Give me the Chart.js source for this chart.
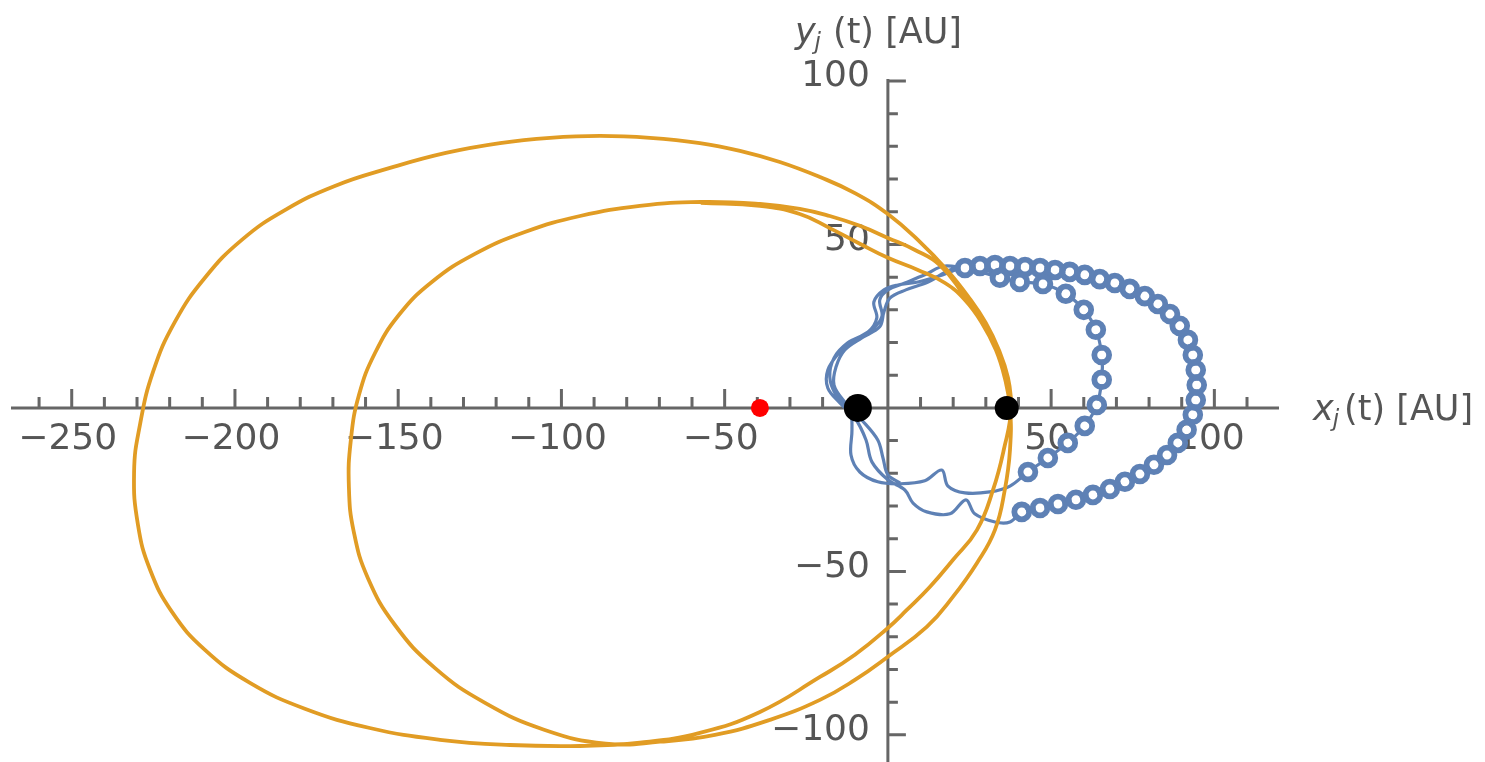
<!DOCTYPE html>
<html>
<head>
<meta charset="utf-8">
<script src="https://cdn.jsdelivr.net/npm/chart.js@4.4.1/dist/chart.umd.min.js"></script>
<style>
  html, body { margin: 0; padding: 0; background: #ffffff; }
  #wrap { width: 1485px; height: 762px; position: relative; }
</style>
</head>
<body>
<div id="wrap"><canvas id="orbits"></canvas></div>
<script>
// Star track (orange): outer loop, inner loop, then the start of a third pass
const starOuterX = [38.0, 36.8, 34.0, 30.0, 24.5, 18.1, 9.8, 0, -10.1, -20.8, -33.1, -45.3, -57.6, -72.9, -88.2,
  -103.5, -118.8, -135.4, -152.5, -169.4, -184.7, -197.9, -209.2, -218.4, -225.1, -229.1, -230.9, -229.7,
  -226.0, -219.3, -209.2, -195.4, -178.6, -158.7, -137.2, -115.8, -94.3, -76.0, -57.6, -39.2, -20.8, -10.1,
  0, 5.8, 12.9, 19.9, 27.3, 32.2, 35.5];
const starOuterY = [0, 9.2, 17.7, 26.0, 34.2, 42.2, 50.8, 59.3, 65.7, 70.6, 75.2, 78.6, 81.0, 82.6, 83.2,
  82.6, 81.0, 78.0, 73.4, 67.9, 60.5, 51.4, 39.8, 26.3, 11.0, -5.2, -19.6, -35.8,
  -49.5, -62.4, -74.0, -84.1, -92.0, -97.9, -101.5, -103.1, -103.4, -102.4, -99.4, -93.0, -82.3, -75.5,
  -67.3, -61.8, -54.7, -46.5, -37.3, -25.1, -12.8];
const starInnerX = [37.7, 36.1, 33.4, 29.1, 23.0, 15.9, 8.3, 0, -8.6, -17.8, -27.0, -39.2, -57.3, -76.0, -94.3,
  -111.2, -126.5, -139.7, -149.8, -157.1, -162.0, -164.5, -165.1, -163.6, -159.3, -151.0, -138.8, -123.4,
  -105.1, -86.4, -69.8, -53.0, -36.1, -20.8, -10.1, 0, 11.9, 19.9, 27.3, 32.8, 35.8, 37.4];
const starInnerY = [0, 9.2, 17.7, 26.3, 34.9, 43.7, 48.3, 52.0, 55.7, 58.7, 60.9, 62.4, 63.0, 61.8, 58.7,
  53.8, 47.1, 38.5, 28.4, 16.8, 4.0, -9.8, -24.2, -37.9, -52.0, -66.4, -79.5, -90.2,
  -98.5, -102.7, -102.1, -100.0, -95.4, -89.3, -83.2, -76.1, -67.0, -57.8, -47.4, -37.3, -25.1, -12.8];
const starTailX = [37.4, 35.8, 33.1, 28.8, 23.6, 17.5, 9.2, 0, -8.6, -17.8, -27.0, -39.2, -57.3];
const starTailY = [0, 9.2, 17.7, 26.0, 33.0, 38.2, 42.2, 45.9, 50.2, 55.0, 59.3, 61.8, 62.7];

// Planet track (blue): middle ring, outer ring, and a third strand on the left
const planetX = [
  22.1, 15.9, 9.2, 3.1, -1.2, -4.3, -3.4, -6.1, -12.3, -16.5, -17.8, -15.9, -11.6, -11.0, -11.3,
  -8.6, -3.1, 3.7, 11.3, 16.5, 18.4, 23.6, 31.2, 37.4, 42.9, 49.0, 55.1, 60.3, 64.0, 65.5, 65.5,
  63.7, 60.0, 54.5, 47.5, 40.4, 34.3, 28.2,
  17.5, 11.3, 5.2, 0, -2.5, -1.8, -4.3, -10.1, -14.7, -18.4, -18.4, -14.7, -10.1, -6.7, -4.9, 0,
  5.2, 7.7, 11.9, 19.0, 23.9, 26.6, 32.8, 37.4, 41.0, 46.6, 52.1, 57.6, 62.8, 68.0, 72.6, 77.2,
  81.5, 85.5, 88.8, 91.5, 93.4, 94.3, 94.6, 94.3, 93.4, 91.9, 89.4, 86.4, 82.7, 78.7, 74.1, 69.5,
  64.9, 60.3, 55.7, 51.2, 46.6, 42.0, 37.4, 32.8, 28.2, 23.6, 19.0,
  12.3, 5.5, 0.6, -1.2, -2.5, -8.0, -13.2, -15.9, -16.5, -13.2, -8.0, -3.1, -1.5, 0, 3.7
];
const planetY = [
  42.8, 40.4, 38.5, 37.6, 36.1, 32.4, 27.5, 23.2, 19.9, 15.3, 9.5, 4.0, -0.6, -6.7, -14.4,
  -19.6, -22.6, -23.2, -22.3, -19.0, -23.9, -26.0, -25.7, -23.9, -19.6, -15.3, -10.7, -5.5, 0.9, 8.6, 16.2,
  23.9, 30.0, 34.9, 37.9, 38.5, 39.8, 41.6,
  43.4, 40.7, 38.2, 36.1, 33.0, 28.1, 24.5, 20.8, 17.1, 11.6, 6.1, 1.5, -3.1, -9.8, -16.5, -22.0,
  -25.1, -29.1, -31.8, -32.4, -28.1, -32.4, -34.9, -34.9, -31.8, -30.6, -29.4, -28.1, -26.6, -24.8, -22.6, -20.2,
  -17.4, -14.4, -10.7, -6.7, -2.1, 2.4, 7.0, 11.6, 16.2, 20.8, 25.1, 28.7, 31.8, 34.2, 36.4, 38.2,
  39.4, 40.7, 41.6, 42.2, 42.8, 43.1, 43.4, 43.7, 43.4, 42.8, 42.2,
  38.5, 36.1, 33.6, 29.4, 24.8, 21.4, 17.7, 12.5, 7.0, 1.8, -3.7, -9.8, -15.3, -20.5, -22.9
];

// Centres of the small moon loops on the outer and middle rings
const outerLoopX = [41.0, 46.6, 52.1, 57.6, 62.8, 68.0, 72.6, 77.2, 81.5, 85.5, 88.8, 91.5, 93.4, 94.3, 94.6, 94.3, 93.4,
  91.9, 89.4, 86.4, 82.7, 78.7, 74.1, 69.5, 64.9, 60.3, 55.7, 51.2, 46.6, 42.0, 37.4, 32.8, 28.2, 23.6];
const outerLoopY = [-31.8, -30.6, -29.4, -28.1, -26.6, -24.8, -22.6, -20.2, -17.4, -14.4, -10.7, -6.7, -2.1, 2.4, 7.0, 11.6, 16.2,
  20.8, 25.1, 28.7, 31.8, 34.2, 36.4, 38.2, 39.4, 40.7, 41.6, 42.2, 42.8, 43.1, 43.4, 43.7, 43.4, 42.8];
const middleLoopX = [42.9, 49.0, 55.1, 60.3, 64.0, 65.5, 65.5, 63.7, 60.0, 54.5, 47.5, 40.4, 34.3];
const middleLoopY = [-19.6, -15.3, -10.7, -5.5, 0.9, 8.6, 16.2, 23.9, 30.0, 34.9, 37.9, 38.5, 39.8];

// Fixed bodies on the x axis
const blackBodyX = [-9.2, 36.4];
const blackBodyY = [0, 0];
const redBodyX = [-39.2];
const redBodyY = [0];

// Axes
const xRange = [-268.6, 119.8];
const yRange = [-108.3, 100.6];
const xTickValues = [-250, -200, -150, -100, -50, 50, 100];
const yTickValues = [-100, -50, 50, 100];
const xMinorTicks = [-260, -240, -230, -220, -210, -190, -180, -170, -160, -140, -130, -120, -110,
  -90, -80, -70, -60, -40, -30, -20, -10, 10, 20, 30, 40, 60, 70, 80, 90, 110];
const yMinorTicks = [-90, -80, -70, -60, -40, -30, -20, -10, 10, 20, 30, 40, 60, 70, 80, 90];

const BLUE = '#5E81B5';
const ORANGE = '#E19C24';
const AXIS = '#666666';
const TEXT = '#555555';
const FONT = 'DejaVu Sans';

const pairs = (xs, ys) => xs.map((v, i) => ({ x: v, y: ys[i] }));
const fmt = v => (v < 0 ? '\u2212' + Math.abs(v) : String(v));
const noPad = s => { s.paddingLeft = 0; s.paddingRight = 0; s.paddingTop = 0; s.paddingBottom = 0; };

const starTrack = pairs(starOuterX, starOuterY)
  .concat(pairs(starInnerX, starInnerY))
  .concat(pairs(starTailX, starTailY));
const loopCentres = pairs(outerLoopX, outerLoopY).concat(pairs(middleLoopX, middleLoopY));

// Axis lines through the origin with ticks on the upper / right side
const crossAxes = {
  id: 'crossAxes',
  beforeDatasetsDraw(chart) {
    const { ctx, chartArea: a, scales: { x, y } } = chart;
    const x0 = x.getPixelForValue(0);
    const y0 = y.getPixelForValue(0);
    ctx.save();
    ctx.strokeStyle = AXIS;
    ctx.lineWidth = 3;
    ctx.beginPath();
    ctx.moveTo(a.left, y0); ctx.lineTo(a.right, y0);
    ctx.moveTo(x0, a.top); ctx.lineTo(x0, a.bottom);
    xMinorTicks.forEach(v => { const p = x.getPixelForValue(v); ctx.moveTo(p, y0); ctx.lineTo(p, y0 - 11); });
    xTickValues.forEach(v => { const p = x.getPixelForValue(v); ctx.moveTo(p, y0); ctx.lineTo(p, y0 - 19); });
    yMinorTicks.forEach(v => { const p = y.getPixelForValue(v); ctx.moveTo(x0, p); ctx.lineTo(x0 + 10, p); });
    yTickValues.forEach(v => { const p = y.getPixelForValue(v); ctx.moveTo(x0, p); ctx.lineTo(x0 + 18, p); });
    ctx.stroke();
    ctx.restore();
  }
};

// Axis titles  x_j(t) [AU]  and  y_j(t) [AU]
function drawAxisTitle(ctx, sym, left, base, gap) {
  ctx.font = 'italic 35px "' + FONT + '"';
  ctx.fillText(sym, left, base);
  let cx = left + ctx.measureText(sym).width - 1;
  ctx.font = 'italic 23px "' + FONT + '"';
  ctx.fillText('j', cx, base + 6);
  cx += ctx.measureText('j').width + gap;
  ctx.font = '35px "' + FONT + '"';
  ctx.fillText('(t) [AU]', cx, base);
}
const axisTitles = {
  id: 'axisTitles',
  afterDraw(chart) {
    const { ctx, chartArea: a, scales: { x, y } } = chart;
    const x0 = x.getPixelForValue(0);
    const y0 = y.getPixelForValue(0);
    ctx.save();
    ctx.fillStyle = TEXT;
    ctx.textAlign = 'left';
    ctx.textBaseline = 'alphabetic';
    drawAxisTitle(ctx, 'x', a.right + 34, y0 + 12, 5);
    drawAxisTitle(ctx, 'y', x0 - 93, a.top - 36, 12);
    ctx.restore();
  }
};

new Chart(document.getElementById('orbits'), {
  type: 'scatter',
  data: {
    datasets: [
      { label: 'bodies', data: pairs(blackBodyX, blackBodyY), pointRadius: [14, 12], pointBorderWidth: 0,
        pointBackgroundColor: '#000000', order: 0 },
      { label: 'companion', data: pairs(redBodyX, redBodyY), pointRadius: 9, pointBorderWidth: 0,
        pointBackgroundColor: '#ff0000', order: 0 },
      { type: 'line', label: 'star', data: starTrack, pointRadius: 0, borderColor: ORANGE,
        borderWidth: 3.8, tension: 0.45, fill: false, order: 1 },
      // moon loops: thick rings ...
      { label: 'loops', data: loopCentres, showLine: false, pointRadius: 7.4, pointBorderWidth: 5.8,
        pointBackgroundColor: 'rgba(0,0,0,0)', pointBorderColor: BLUE, order: 2 },
      // ... with an open centre over the track
      { label: 'loop centres', data: loopCentres, showLine: false, pointRadius: 4.5, pointBorderWidth: 0,
        pointBackgroundColor: '#ffffff', order: 2.5 },
      { type: 'line', label: 'planet', data: pairs(planetX, planetY), pointRadius: 0, borderColor: BLUE,
        borderWidth: 3.2, tension: 0.35, fill: false, order: 3 }
    ]
  },
  options: {
    responsive: true,
    maintainAspectRatio: false,
    animation: false,
    devicePixelRatio: 1,
    events: [],
    layout: { autoPadding: false, padding: { left: 11, right: 206, top: 79, bottom: 0 } },
    plugins: { legend: { display: false }, tooltip: { enabled: false } },
    scales: {
      x: {
        type: 'linear', min: xRange[0], max: xRange[1], position: { y: 0 },
        grid: { display: false, drawTicks: false }, border: { display: false },
        afterBuildTicks: s => { s.ticks = xTickValues.map(v => ({ value: v })); },
        afterFit: noPad,
        ticks: { autoSkip: false, maxRotation: 0, minRotation: 0, padding: 10, labelOffset: -4,
          color: TEXT, font: { family: FONT, size: 36 }, callback: v => fmt(v) }
      },
      y: {
        type: 'linear', min: yRange[0], max: yRange[1], position: { x: 0 },
        grid: { display: false, drawTicks: false }, border: { display: false },
        afterBuildTicks: s => { s.ticks = yTickValues.map(v => ({ value: v })); },
        afterFit: noPad,
        ticks: { autoSkip: false, padding: 0, labelOffset: -4,
          color: TEXT, font: { family: FONT, size: 36 }, callback: v => fmt(v) + '\u2002' }
      }
    }
  },
  plugins: [crossAxes, axisTitles]
});
</script>
</body>
</html>
